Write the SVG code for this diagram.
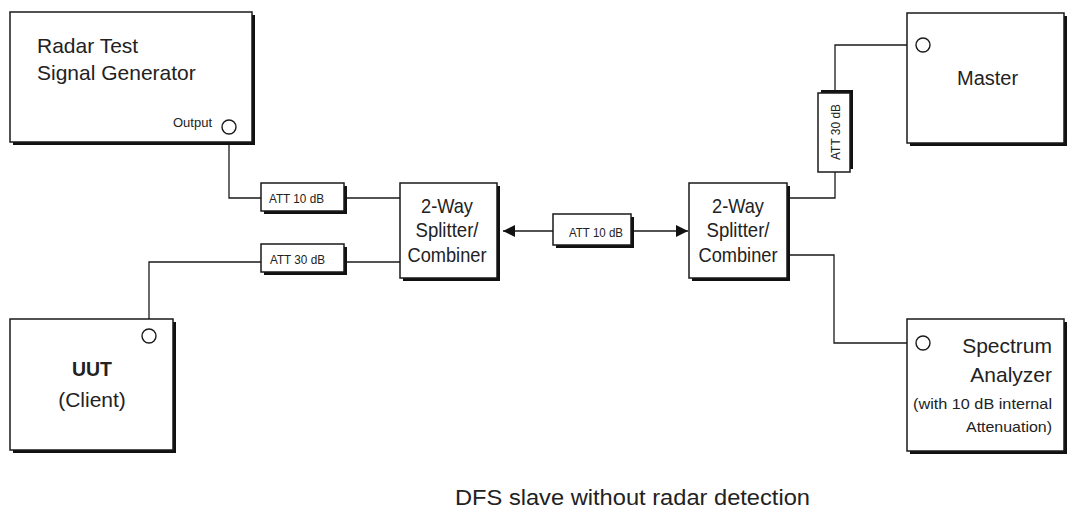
<svg xmlns="http://www.w3.org/2000/svg" width="1067" height="512" viewBox="0 0 1067 512">
<defs>
<style>
.box{fill:#fff;stroke:#1a1a1a;stroke-width:1.5}
.sh{fill:#111}
.wire{fill:none;stroke:#1a1a1a;stroke-width:1.3}
.port{fill:#fff;stroke:#1a1a1a;stroke-width:1.4}
text{font-family:"Liberation Sans",Arial,sans-serif;fill:#222}
.big{font-size:21px}
.mid{font-size:20px}
.att{font-size:13px}
.sm{font-size:15px}
</style>
<marker id="ah" viewBox="0 0 12 12" refX="12" refY="6" markerWidth="12" markerHeight="12" markerUnits="userSpaceOnUse" orient="auto">
<path d="M0,0 L12,6 L0,12 Z" fill="#111"/>
</marker>
</defs>
<rect width="1067" height="512" fill="#fff"/>

<g id="connectors">
<polyline class="wire" points="229,134 229,198 261,198"/>
<line class="wire" x1="347" y1="198" x2="400" y2="198"/>
<polyline class="wire" points="149,329 149,262 261,262"/>
<line class="wire" x1="347" y1="262" x2="400" y2="262"/>
<line class="wire" x1="553" y1="231" x2="503" y2="231" marker-end="url(#ah)"/>
<line class="wire" x1="634" y1="231" x2="688" y2="231" marker-end="url(#ah)"/>
<polyline class="wire" points="790,198 835,198 835,172"/>
<polyline class="wire" points="835,93 835,45 916,45"/>
<polyline class="wire" points="790,255 834,255 834,343 916,343"/>
</g>

<g id="radar">
<rect class="sh" x="13" y="15" width="242" height="130"/>
<rect class="box" x="10" y="12" width="242" height="130"/>
<text class="big" x="37" y="53">Radar Test</text>
<text class="big" x="37" y="80">Signal Generator</text>
<text class="att" x="173" y="127">Output</text>
<circle class="port" cx="229" cy="127" r="7"/>
</g>

<g id="att1">
<rect class="sh" x="264" y="186" width="83" height="28"/>
<rect class="box" x="261" y="183" width="83" height="28"/>
<text class="att" x="269" y="203" textLength="55" lengthAdjust="spacingAndGlyphs">ATT 10 dB</text>
</g>

<g id="att2">
<rect class="sh" x="264" y="247" width="83" height="28"/>
<rect class="box" x="261" y="244" width="83" height="28"/>
<text class="att" x="270" y="264" textLength="55" lengthAdjust="spacingAndGlyphs">ATT 30 dB</text>
</g>

<g id="splitter1">
<rect class="sh" x="403" y="186" width="97" height="95"/>
<rect class="box" x="400" y="183" width="97" height="95"/>
<text class="big" x="447" y="213" text-anchor="middle" textLength="52" lengthAdjust="spacingAndGlyphs">2-Way</text>
<text class="big" x="447" y="237" text-anchor="middle" textLength="63" lengthAdjust="spacingAndGlyphs">Splitter/</text>
<text class="big" x="447" y="262" text-anchor="middle" textLength="79" lengthAdjust="spacingAndGlyphs">Combiner</text>
</g>

<g id="att3">
<rect class="sh" x="556" y="217" width="78" height="31"/>
<rect class="box" x="553" y="214" width="78" height="31"/>
<text class="att" x="569" y="237" textLength="54" lengthAdjust="spacingAndGlyphs">ATT 10 dB</text>
</g>

<g id="splitter2">
<rect class="sh" x="692" y="186" width="98" height="95"/>
<rect class="box" x="689" y="183" width="98" height="95"/>
<text class="big" x="738" y="213" text-anchor="middle" textLength="52" lengthAdjust="spacingAndGlyphs">2-Way</text>
<text class="big" x="738" y="237" text-anchor="middle" textLength="63" lengthAdjust="spacingAndGlyphs">Splitter/</text>
<text class="big" x="738" y="262" text-anchor="middle" textLength="79" lengthAdjust="spacingAndGlyphs">Combiner</text>
</g>

<g id="att4">
<rect class="sh" x="821" y="90" width="32" height="79"/>
<rect class="box" x="818" y="93" width="32" height="79"/>
<text class="att" transform="translate(840,160) rotate(-90)" textLength="56" lengthAdjust="spacingAndGlyphs">ATT 30 dB</text>
</g>

<g id="master">
<rect class="sh" x="910" y="16" width="157" height="130"/>
<rect class="box" x="907" y="13" width="157" height="130"/>
<circle class="port" cx="923" cy="45" r="7"/>
<text class="mid" x="957" y="85">Master</text>
</g>

<g id="spectrum">
<rect class="sh" x="910" y="322" width="157" height="132"/>
<rect class="box" x="907" y="319" width="157" height="132"/>
<circle class="port" cx="923" cy="343" r="7"/>
<text class="big" x="1052" y="353" text-anchor="end">Spectrum</text>
<text class="big" x="1052" y="382" text-anchor="end">Analyzer</text>
<text class="sm" x="1052" y="409" text-anchor="end" textLength="139" lengthAdjust="spacingAndGlyphs">(with 10 dB internal</text>
<text class="sm" x="1052" y="432" text-anchor="end" textLength="86" lengthAdjust="spacingAndGlyphs">Attenuation)</text>
</g>

<g id="uut">
<rect class="sh" x="13" y="322" width="163" height="131"/>
<rect class="box" x="10" y="319" width="163" height="131"/>
<circle class="port" cx="149" cy="336" r="7"/>
<text class="big" x="92" y="376" text-anchor="middle" font-weight="bold" textLength="40" lengthAdjust="spacingAndGlyphs">UUT</text>
<text class="big" x="92" y="407" text-anchor="middle">(Client)</text>
</g>

<g id="caption">
<text x="455" y="505" font-size="22" textLength="355" lengthAdjust="spacingAndGlyphs">DFS slave without radar detection</text>
</g>
</svg>
